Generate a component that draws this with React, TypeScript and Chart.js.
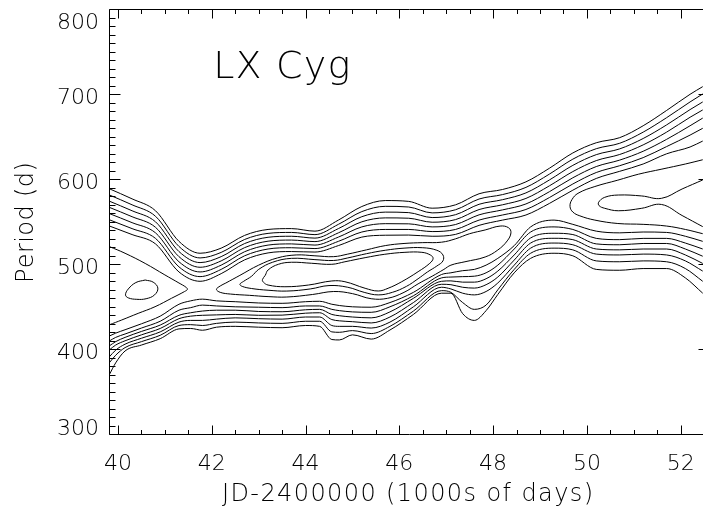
import React, { useEffect, useRef } from 'react';
import { Chart, registerables } from 'chart.js';

Chart.register(...registerables);

// ---- axes ----
const X_MIN = 39.808;
const X_MAX = 52.604;
const Y_MIN = 300;
const Y_MAX = 800;

const xTickValues = [40, 42, 44, 46, 48, 50, 52];
const xTickLabels = ['40', '42', '44', '46', '48', '50', '52'];
const yTickValues = [300, 400, 500, 600, 700, 800];
const yTickLabels = ['300', '400', '500', '600', '700', '800'];
const xMinorStep = 0.5;
const yMinorStep = 10;

const xAxisTitle = 'JD-2400000 (1000s of days)';
const yAxisTitle = 'Period (d)';
const starName = 'LX Cyg';
const starNameAt = { x: 42.03, y: 718.8 };

// ---- upper band contours (shared x grid) ----
const UX = [39.81, 40.3, 40.8, 41.3, 41.75, 42.2, 42.7, 43.2, 43.7, 44.2, 44.7, 45.2, 45.7, 46.2, 46.7, 47.2, 47.7, 48.2, 48.7, 49.2, 49.7, 50.2, 50.7, 51.2, 51.7, 52.2, 52.47];
const U1 = [589, 577, 563, 527, 513, 519, 534, 541, 542, 539, 552, 568, 575, 574, 566, 570, 583, 588, 597, 613, 631, 643, 649, 663, 681, 700, 709];
const U2 = [581.7, 570, 556.5, 521, 507.5, 514, 529.2, 536.4, 537.5, 534.9, 547, 562, 568.2, 567.4, 560.5, 564.2, 576.8, 582, 590.5, 606.1, 623.7, 636, 642.4, 655.5, 672.5, 691, 700.4];
const U3 = [574.4, 563, 550, 515, 502, 509, 524.4, 531.8, 533, 530.8, 542, 556, 561.4, 560.8, 555, 558.4, 570.6, 576, 584, 599.2, 616.4, 629, 635.8, 648, 664, 682, 691];
const U4 = [567.1, 556, 543.5, 509, 496.5, 504, 519.6, 527.2, 528.5, 526.7, 537, 550, 554.6, 554.2, 549.5, 552.6, 564.4, 570, 577.5, 592.3, 609.1, 622, 629.2, 640.5, 655.5, 673, 681.6];
const U5 = [559.8, 549, 537, 503, 491, 499, 514.8, 522.6, 524, 522.6, 532, 544, 547.8, 547.6, 544, 546.8, 558.2, 564, 571, 585.4, 601.8, 615, 622.6, 633, 647, 663, 672];
const U6 = [552.5, 542, 530.5, 497, 485.5, 494, 510, 518, 519.5, 518.5, 527, 538, 541, 541, 538.5, 541, 552, 558, 564.5, 578.5, 594.5, 608, 616, 625.5, 638.5, 652, 660];
const U7 = [545.2, 535, 524, 491, 480, 489, 505.2, 513.4, 515, 514.4, 522, 532, 534.2, 534.4, 533, 535.2, 545.8, 552, 558, 571.6, 587.2, 601, 609.4, 618, 630, 638, 645];

// ---- lower band contours (shared x grid) ----
const DX = [39.81, 39.95, 40.15, 40.5, 40.9, 41.3, 41.55, 41.8, 42.1, 42.5, 43.0, 43.5, 44.0, 44.3, 44.56, 44.72, 45.0, 45.4, 45.8, 46.3, 46.9, 47.1, 47.35, 47.6, 47.85, 48.1, 48.45, 48.8, 49.3, 49.7, 50.2, 50.7, 51.2, 51.7, 52.1, 52.47];
const D1 = [369.6, 384, 398, 405, 412.5, 424, 424.5, 422.4, 426, 427, 426, 425.4, 428, 427, 411.5, 411, 417, 412, 422.7, 441, 466, 466, 442, 434, 445.5, 464.5, 490, 507, 513, 510, 494, 493, 495, 495, 484, 466];
const D2 = [383.8, 393, 402, 409, 416.5, 428, 429, 428, 430.5, 432, 431, 430.5, 433, 433, 420.5, 420, 422, 418.5, 427, 445, 469, 467, 455, 447, 452, 470, 494, 513, 519, 517, 504, 503, 504, 503, 495, 480];
const D3 = [390.8, 399, 406, 413, 420.5, 432, 434, 434, 435.5, 437, 436, 435.5, 438, 438, 428, 427, 427, 425, 432, 450, 473, 471, 466, 464, 468, 478, 499, 519, 525, 523, 512, 511, 512, 511, 504, 492];
const D4 = [399, 405, 410, 417, 424.5, 436, 439, 440, 440.5, 441, 440, 440.2, 442.5, 443, 435, 433.5, 432.5, 431, 438, 455, 476.5, 476, 473, 472, 476, 485, 505, 525, 530.6, 529, 518, 517, 518, 518, 511, 501];
const D5 = [403.8, 409, 414, 421, 428.5, 440, 443, 445, 446, 446, 444.5, 444.2, 446.5, 447, 441, 439.5, 438, 437, 444, 460, 480, 480.5, 479, 479, 483, 492, 511, 531, 536.5, 535, 524, 523, 524.5, 524.5, 518, 509.5];
const D6 = [409.6, 414, 418, 425, 433, 446, 449, 452, 451, 450, 449.5, 449, 451, 451, 447, 445.5, 444, 443.5, 450, 463, 484, 485, 485.5, 486, 490, 499, 518, 538, 544, 541, 530.5, 529, 530.5, 530.5, 525, 518];
const D7 = [415.5, 419, 423, 430, 439, 453, 457, 459, 457, 456, 454.5, 454.1, 456, 456.5, 453, 451.5, 450, 449.5, 455, 467, 488, 490, 492.5, 494, 499, 507, 522, 544, 552, 547, 539, 537, 538, 537.5, 533, 527];

// ---- closed / open ridge contours as [x, y] pairs ----
const ellipseLeft: [number, number][] = [
  [40.58, 481.5], [40.75, 479], [40.85, 472], [40.78, 464], [40.6, 459.5], [40.4, 458.8],
  [40.22, 460.5], [40.16, 464], [40.22, 471], [40.38, 478.5], [40.58, 481.5],
];
const cLeft: [number, number][] = [
  [39.81, 521], [40.15, 513], [40.58, 501], [41.0, 487.5], [41.3, 478], [41.45, 473],
  [41.48, 470.5], [41.42, 468], [41.14, 460], [40.79, 450.1], [40.43, 442.3], [40.08, 434.5], [39.81, 428.7],
];
const ridgeOuter: [number, number][] = [
  [44.2, 510], [44.6, 509], [44.9, 512], [45.3, 517], [45.7, 522], [46.1, 524.5], [46.5, 525.5],
  [46.9, 526], [47.2, 530], [47.5, 536], [47.83, 540.4], [48.15, 545], [48.33, 543], [48.38, 537],
  [48.3, 527.5], [48.1, 516.8], [47.83, 508.6], [47.4, 503], [47.1, 499], [46.95, 494], [46.7, 486],
  [46.4, 477], [46.1, 467], [45.75, 460], [45.4, 459.5], [45.0, 465.5], [44.6, 468], [44.15, 464.5],
  [43.6, 461.5], [43.2, 462], [42.8, 463.5], [42.4, 465], [42.18, 467], [42.1, 470.5], [42.18, 474.5],
  [42.3, 478], [42.6, 487], [43.0, 499], [43.4, 507.5], [43.8, 511], [44.2, 510],
];
const ridgeMiddle: [number, number][] = [
  [44.2, 505.5], [44.6, 504.5], [44.9, 507.5], [45.3, 512.5], [45.7, 516.5], [46.1, 519], [46.5, 519.5],
  [46.8, 516.5], [46.93, 511], [46.93, 504], [46.8, 498], [46.6, 491], [46.4, 483], [46.15, 474],
  [45.85, 467], [45.55, 464], [45.25, 467], [44.9, 473], [44.5, 475], [44.1, 471], [43.6, 468.5],
  [43.2, 469.5], [42.85, 471.5], [42.65, 474], [42.6, 476.5], [42.68, 480], [42.85, 486], [43.0, 494],
  [43.3, 502.5], [43.7, 507], [44.2, 505.5],
];
const ridgeInner: [number, number][] = [
  [44.13, 501.2], [44.56, 500], [44.84, 503], [45.27, 507.8], [45.69, 511.8], [46.12, 514.1],
  [46.48, 514.1], [46.66, 511], [46.72, 507], [46.65, 501.2], [46.4, 491.3], [46.05, 479.5],
  [45.76, 471.8], [45.55, 468.6], [45.27, 471.8], [44.84, 479.5], [44.56, 480.4], [44.06, 475.6],
  [43.56, 473.6], [43.2, 475.6], [43.1, 479], [43.08, 482], [43.14, 487], [43.2, 493.3], [43.42, 500],
  [43.7, 502.4], [44.13, 501.2],
];
const rightOuter: [number, number][] = [
  [52.47, 623], [52.1, 618], [51.6, 612], [51.1, 606], [50.66, 599], [50.17, 591.5], [49.81, 583.5],
  [49.68, 576], [49.64, 568], [49.7, 561.5], [49.85, 557], [50.17, 552], [50.66, 548], [51.2, 547],
  [51.7, 545], [52.1, 541], [52.47, 536],
];
const rightInner: [number, number][] = [
  [52.47, 599.2], [52.03, 588.6], [51.59, 577.6], [51.17, 580.4], [50.67, 581.5], [50.38, 578.8],
  [50.25, 573], [50.26, 569], [50.38, 565.9], [50.67, 563], [51.17, 565.9], [51.59, 570.4],
  [52.03, 557.4], [52.47, 544.3],
];

const FONT_FAMILY = '"DejaVu Sans", "Noto Sans", sans-serif';
const FONT_WEIGHT = '200';

function drawSpaced(ctx: CanvasRenderingContext2D, text: string, x: number, y: number, target: number) {
  const w0 = ctx.measureText(text).width;
  const extra = text.length > 1 ? (target - w0) / (text.length - 1) : 0;
  let cx = x;
  for (const ch of text) {
    ctx.fillText(ch, cx, y);
    cx += ctx.measureText(ch).width + extra;
  }
}

const idlFrame = {
  id: 'idlFrame',
  afterDraw(chart: any) {
    const { ctx, chartArea: a, scales } = chart;
    const sx = scales.x;
    const sy = scales.y;
    ctx.save();
    ctx.strokeStyle = '#000';
    ctx.lineWidth = 1;
    const L = Math.round(a.left) + 0.5;
    const R = Math.round(a.right) + 0.5;
    const T = Math.round(a.top) + 0.5;
    const B = Math.round(a.bottom) + 0.5;
    ctx.beginPath();
    ctx.rect(L, T, R - L, B - T);
    const xs = Math.ceil(X_MIN / xMinorStep) * xMinorStep;
    for (let v = xs; v <= X_MAX + 1e-9; v += xMinorStep) {
      const major = Math.abs(v / 2 - Math.round(v / 2)) < 1e-6;
      const len = major ? 9 : 4.5;
      const px = Math.round(sx.getPixelForValue(v)) + 0.5;
      ctx.moveTo(px, B); ctx.lineTo(px, B - len);
      ctx.moveTo(px, T); ctx.lineTo(px, T + len);
    }
    for (let v = Y_MIN; v <= Y_MAX + 1e-9; v += yMinorStep) {
      const major = Math.abs(v / 100 - Math.round(v / 100)) < 1e-6;
      const len = major ? 11 : 6;
      const py = Math.round(sy.getPixelForValue(v)) + 0.5;
      ctx.moveTo(L, py); ctx.lineTo(L + len, py);
      ctx.moveTo(R, py); ctx.lineTo(R - len, py);
    }
    ctx.stroke();

    ctx.fillStyle = '#000';
    ctx.font = `${FONT_WEIGHT} 22px ${FONT_FAMILY}`;
    ctx.textBaseline = 'alphabetic';
    ctx.textAlign = 'center';
    xTickValues.forEach((v, i) => {
      ctx.fillText(xTickLabels[i], sx.getPixelForValue(v), a.bottom + 35.7);
    });
    ctx.textAlign = 'right';
    yTickValues.forEach((v, i) => {
      let c = sy.getPixelForValue(v) + 2;
      c = Math.max(a.top + 11.5, Math.min(a.bottom - 7, c));
      ctx.fillText(yTickLabels[i], a.left - 10, c + 8);
    });

    ctx.textAlign = 'left';
    ctx.font = `${FONT_WEIGHT} 24px ${FONT_FAMILY}`;
    drawSpaced(ctx, xAxisTitle, 222, 501, 371);
    ctx.save();
    ctx.translate(33, 223);
    ctx.rotate(-Math.PI / 2);
    drawSpaced(ctx, yAxisTitle, -60, 0, 120);
    ctx.restore();

    ctx.font = `${FONT_WEIGHT} 38px ${FONT_FAMILY}`;
    drawSpaced(ctx, starName, sx.getPixelForValue(starNameAt.x), sy.getPixelForValue(starNameAt.y), 137);
    ctx.restore();
  },
};

const toPts = (xs: number[], ys: number[]) => xs.map((x, i) => ({ x, y: ys[i] }));
const pairPts = (p: [number, number][]) => p.map(([x, y]) => ({ x, y }));

export default function App() {
  const ref = useRef<HTMLCanvasElement>(null);
  useEffect(() => {
    document.body.style.margin = '0';
    const canvas = ref.current;
    if (!canvas) return;
    const base = {
      showLine: true,
      borderColor: '#000',
      borderWidth: 1,
      pointRadius: 0,
      pointHoverRadius: 0,
      fill: false,
    };
    const bandSets = [U1, U2, U3, U4, U5, U6, U7].map((ys) => ({
      ...base, data: toPts(UX, ys), cubicInterpolationMode: 'monotone' as const,
    })).concat([D1, D2, D3, D4, D5, D6, D7].map((ys) => ({
      ...base, data: toPts(DX, ys), cubicInterpolationMode: 'monotone' as const,
    })));
    const loopSets = [ellipseLeft, cLeft, ridgeOuter, ridgeMiddle, ridgeInner, rightOuter, rightInner].map((p) => ({
      ...base, data: pairPts(p), tension: 0.4,
    }));
    const chart = new Chart(canvas, {
      type: 'scatter',
      data: { datasets: [...bandSets, ...loopSets] as any },
      options: {
        animation: false,
        responsive: false,
        devicePixelRatio: 1,
        layout: { padding: { left: 109, right: 3, top: 9.3, bottom: 71.7 } },
        plugins: { legend: { display: false }, tooltip: { enabled: false } },
        events: [],
        scales: {
          x: { type: 'linear', min: X_MIN, max: X_MAX, display: false },
          y: { type: 'linear', min: Y_MIN, max: Y_MAX, display: false },
        },
      },
      plugins: [idlFrame],
    });
    return () => chart.destroy();
  }, []);
  return (
    <div style={{ width: 703, height: 506, overflow: 'hidden', background: '#fff' }}>
      <canvas ref={ref} width={712} height={506} style={{ display: 'block' }} />
    </div>
  );
}
